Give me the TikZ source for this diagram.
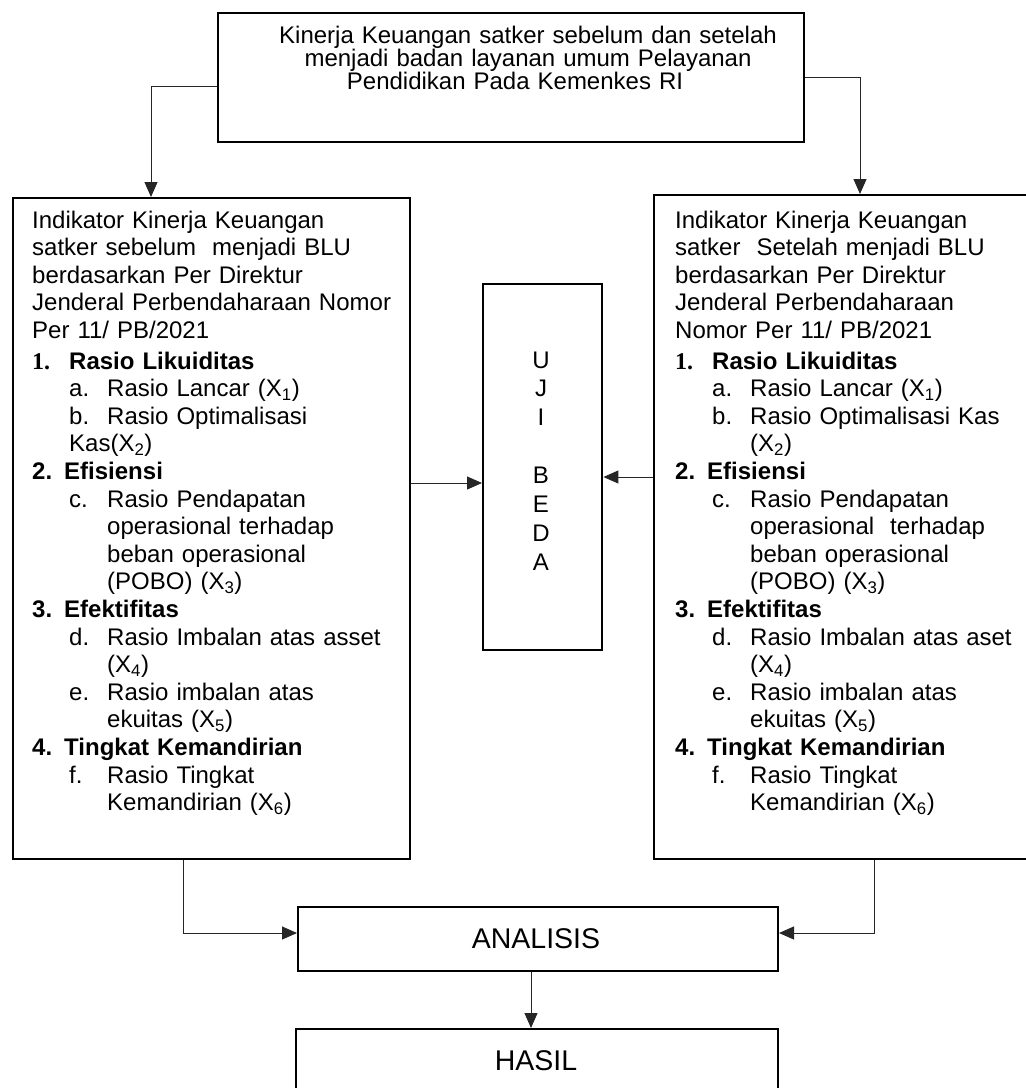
\documentclass[tikz,border=0pt]{standalone}
\usepackage{fontspec}
\setmainfont{Liberation Sans}
\newfontfamily\timesfont{Liberation Serif}
\usetikzlibrary{arrows.meta}

\newcommand\lvone[2]{\makebox[37pt][l]{#1}#2}
\newcommand\lvtwo[2]{\hspace*{37pt}\makebox[38pt][l]{#1}#2}
\newcommand\lvcont[1]{\hspace*{75pt}#1}
\newcommand\lvcontA[1]{\hspace*{37pt}#1}

\tikzset{
  box/.style={draw, line width=2pt, inner sep=0pt, anchor=north west},
  arr/.style={line width=1pt, draw=black!85, -{Triangle[length=15pt,width=13pt]}},
  txt/.style={inner sep=0pt, font=\fontsize{24}{27.6}\selectfont},
  bigtxt/.style={inner sep=0pt, font=\fontsize{28.5}{32}\selectfont},
}

\begin{document}
\begin{tikzpicture}[x=1pt, y=-1pt]
\useasboundingbox (0,0) rectangle (1026,1088);

% boxes
\node[box, minimum width=586pt, minimum height=129pt] (top) at (217,12) {};
\node[box, minimum width=397pt, minimum height=661pt] (lbox) at (12,197) {};
\node[box, minimum width=380pt, minimum height=664pt] (rbox) at (653,194) {};
\node[box, line width=2.4pt, minimum width=119pt, minimum height=366pt] (uji) at (482,283) {};
\node[box, minimum width=480pt, minimum height=64pt] (ana) at (297,906) {};
\node[box, minimum width=482pt, minimum height=100pt] (hasil) at (295,1028) {};

% texts
\node[inner sep=0pt, font=\fontsize{24}{23}\selectfont, align=center, text width=560pt, anchor=base] (toptxt) at (528,43)
  {Kinerja Keuangan satker sebelum dan setelah\\
   menjadi badan layanan umum Pelayanan\\
   Pendidikan Pada Kemenkes RI\hbox to 26pt{}};

\node[txt, align=left, text width=380pt, anchor=base west] (ltxt) at (32,228)
  {Indikator Kinerja Keuangan\\
   satker sebelum\ \ menjadi BLU\\
   berdasarkan Per Direktur\\
   Jenderal Perbendaharaan Nomor\\
   Per 11/ PB/2021\\[3pt]
   \lvone{\textbf{\timesfont 1.}}{\textbf{Rasio Likuiditas}}\\
   \lvtwo{a.}{Rasio Lancar (X\textsubscript{1})}\\
   \lvtwo{b.}{Rasio Optimalisasi}\\
   \lvcontA{Kas(X\textsubscript{2})}\\
   \textbf{2. Efisiensi}\\
   \lvtwo{c.}{Rasio Pendapatan}\\
   \lvcont{operasional terhadap}\\
   \lvcont{beban operasional}\\
   \lvcont{(POBO) (X\textsubscript{3})}\\
   \textbf{3. Efektifitas}\\
   \lvtwo{d.}{Rasio Imbalan atas asset}\\
   \lvcont{(X\textsubscript{4})}\\
   \lvtwo{e.}{Rasio imbalan atas}\\
   \lvcont{ekuitas (X\textsubscript{5})}\\
   \textbf{4. Tingkat Kemandirian}\\
   \lvtwo{f.}{Rasio Tingkat}\\
   \lvcont{Kemandirian (X\textsubscript{6})}};

\node[txt, align=left, text width=350pt, anchor=base west] (rtxt) at (675,228)
  {Indikator Kinerja Keuangan\\
   satker\ \ Setelah menjadi BLU\\
   berdasarkan Per Direktur\\
   Jenderal Perbendaharaan\\
   Nomor Per 11/ PB/2021\\[3pt]
   \lvone{\textbf{\timesfont 1.}}{\textbf{Rasio Likuiditas}}\\
   \lvtwo{a.}{Rasio Lancar (X\textsubscript{1})}\\
   \lvtwo{b.}{Rasio Optimalisasi Kas}\\
   \lvcont{(X\textsubscript{2})}\\
   \textbf{2. Efisiensi}\\
   \lvtwo{c.}{Rasio Pendapatan}\\
   \lvcont{operasional\ \ terhadap}\\
   \lvcont{beban operasional}\\
   \lvcont{(POBO) (X\textsubscript{3})}\\
   \textbf{3. Efektifitas}\\
   \lvtwo{d.}{Rasio Imbalan atas aset}\\
   \lvcont{(X\textsubscript{4})}\\
   \lvtwo{e.}{Rasio imbalan atas}\\
   \lvcont{ekuitas (X\textsubscript{5})}\\
   \textbf{4. Tingkat Kemandirian}\\
   \lvtwo{f.}{Rasio Tingkat}\\
   \lvcont{Kemandirian (X\textsubscript{6})}};

\node[inner sep=0pt, font=\fontsize{24}{28.9}\selectfont, align=center, text width=40pt, anchor=base] (ujitxt) at (541,368)
  {U\\J\\I\\[28.9pt]B\\E\\D\\A};

\node[bigtxt, anchor=base] (anatxt) at (536,948) {ANALISIS};
\node[bigtxt, anchor=base] (hasiltxt) at (536,1070) {HASIL};

% connectors
\coordinate (tl) at (151,86);
\draw[arr] (tl -| top.west) -- (tl) -- (tl |- lbox.north);
\coordinate (tr) at (860,77);
\draw[arr] (tr -| top.east) -- (tr) -- (tr |- rbox.north);

\coordinate (ml) at (450,483);
\draw[arr] (ml -| lbox.east) -- (ml -| uji.west);
\coordinate (mr) at (620,477);
\draw[arr] (mr -| rbox.west) -- (mr -| uji.east);

\coordinate (bl) at (183,933);
\draw[arr] (bl |- lbox.south) -- (bl) -- (bl -| ana.west);
\coordinate (br) at (874,933);
\draw[arr] (br |- rbox.south) -- (br) -- (br -| ana.east);

\coordinate (bd) at (531,1000);
\draw[arr] (bd |- ana.south) -- (bd |- hasil.north);
\end{tikzpicture}
\end{document}
